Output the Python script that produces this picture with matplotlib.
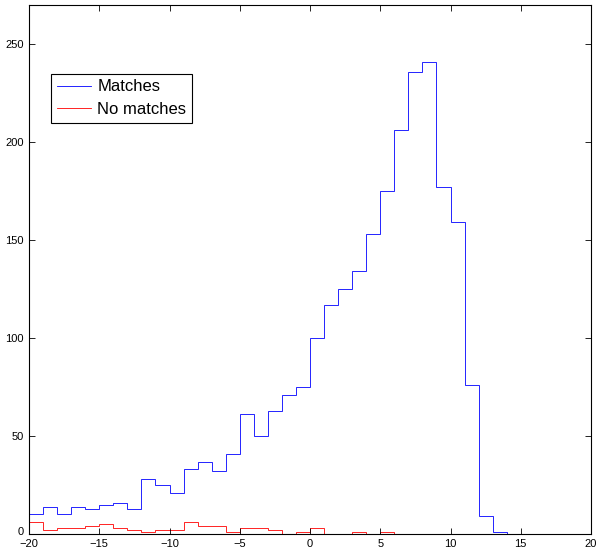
import numpy as np
import matplotlib.pyplot as plt
import matplotlib.transforms as mtransforms

plt.rcParams['font.family'] = ['Liberation Sans', 'DejaVu Sans']

# bin edges (width 1) from -20 to 20
edges = np.arange(-20, 21)

# counts per bin
matches = [10, 14, 10, 14, 13, 15, 16, 13, 28, 25,
           21, 33, 37, 32, 41, 61, 50, 63, 71, 75,
           100, 117, 125, 134, 153, 175, 206, 236, 241, 177,
           159, 76, 9, 1, 0, 0, 0, 0, 0, 0]
no_matches = [6, 2, 3, 3, 4, 5, 3, 2, 1, 2,
              2, 6, 4, 4, 1, 3, 3, 2, 0, 1,
              3, 0, 0, 1, 0, 1, 0, 0, 0, 0,
              0, 0, 0, 0, 0, 0, 0, 0, 0, 0]

fig = plt.figure(figsize=(6, 5.52), dpi=100)
ax = fig.add_axes([29/600, 18/552, 562/600, 529/552])

ax.stairs(matches, edges, color=(0, 0, 1), lw=0.6, label="Matches")
ax.stairs(no_matches, edges, color=(1, 0, 0), lw=0.6, label="No matches")

ax.set_xlim(-20, 20)
ax.set_ylim(0, 270)
ax.set_xticks(np.arange(-20, 21, 5))
ax.set_yticks(np.arange(0, 251, 50))
ax.tick_params(direction='in', top=True, right=True, length=4, width=0.6,
               labelsize=8)
ax.tick_params(axis='x', pad=3.5)
ax.tick_params(axis='y', pad=4)
for s in ax.spines.values():
    s.set_linewidth(0.8)

# nudge the "0" label up a little so it clears the "-20" below it
fig.canvas.draw()
lab0 = ax.get_yticklabels()[0]
lab0.set_transform(lab0.get_transform() +
                   mtransforms.ScaledTranslation(0, 2/72, fig.dpi_scale_trans))

leg = ax.legend(loc='upper left', bbox_to_anchor=(0.039, 0.87), fontsize=12,
                fancybox=False, framealpha=1, edgecolor='black',
                handlelength=2.05, borderpad=0.34, labelspacing=0.45,
                handletextpad=0.4, borderaxespad=0)
leg.get_frame().set_linewidth(0.8)

fig.savefig("out.png", dpi=100)
